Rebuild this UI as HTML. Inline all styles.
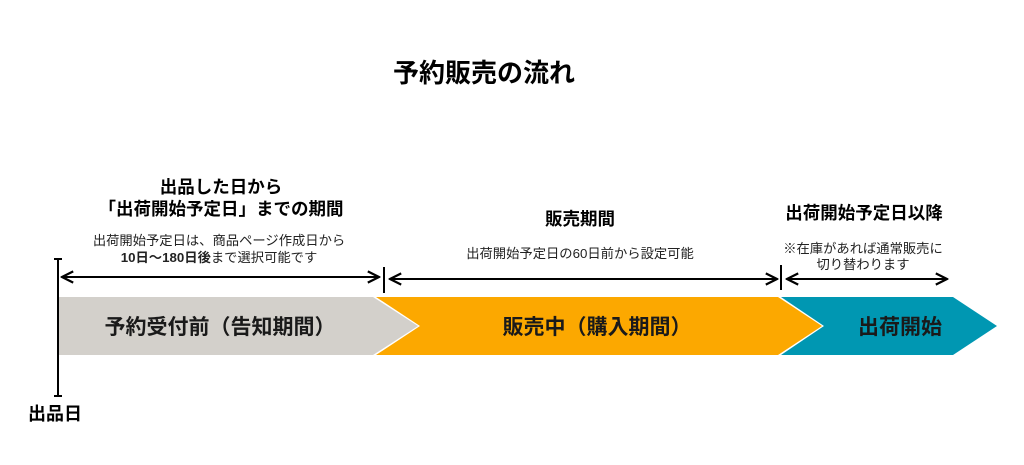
<!DOCTYPE html>
<html><head><meta charset="utf-8"><style>
body{margin:0;width:1024px;height:460px;background:#fff;overflow:hidden}
</style></head><body>
<svg width="1024" height="460" xmlns="http://www.w3.org/2000/svg" style="font-family:'Liberation Sans','Noto Sans CJK JP',sans-serif">
<defs><marker id="a" viewBox="0 0 10 10" refX="9" refY="5" markerWidth="7" markerHeight="7" orient="auto-start-reverse"><path d="M1,1 L9,5 L1,9" fill="none" stroke="#000" stroke-width="1.6"/></marker></defs>
<text x="484" y="82" font-size="26" font-weight="bold" text-anchor="middle">予約販売の流れ</text>
<g font-weight="bold" font-size="17.5" text-anchor="middle">
<text x="221" y="193">出品した日から</text>
<text x="221" y="215">「出荷開始予定日」までの期間</text>
<text x="580" y="225">販売期間</text>
<text x="864" y="219">出荷開始予定日以降</text>
</g>
<g font-size="13.3" text-anchor="middle" fill="#222">
<text x="219" y="245">出荷開始予定日は、商品ページ作成日から</text>
<text x="219" y="262"><tspan font-weight="bold">10日〜180日後</tspan>まで選択可能です</text>
<text x="580" y="258">出荷開始予定日の60日前から設定可能</text>
<text x="863" y="253">※在庫があれば通常販売に</text>
<text x="863" y="269">切り替わります</text>
</g>
<polygon points="58,297 373,297 418,326 373,355 58,355" fill="#d3d0cb"/>
<polygon points="376,297 778,297 822,326 778,355 376,355 420,326" fill="#fca800"/>
<polygon points="781,297 953,297 997,326 953,355 781,355 824,326" fill="#0097b2"/>
<g font-size="21" font-weight="bold" text-anchor="middle" fill="#1a1a1a">
<text x="220" y="334">予約受付前（告知期間）</text>
<text x="597" y="334">販売中（購入期間）</text>
<text x="900" y="334">出荷開始</text>
</g>
<g stroke="#000" stroke-width="2">
<line x1="58" y1="259" x2="58" y2="396"/><line x1="54" y1="259" x2="62" y2="259"/><line x1="54" y1="396" x2="62" y2="396"/>
<line x1="384" y1="267" x2="384" y2="293"/><line x1="781" y1="265" x2="781" y2="290"/>
<line x1="62" y1="277" x2="379" y2="277" marker-start="url(#a)" marker-end="url(#a)"/>
<line x1="390" y1="279" x2="777" y2="279" marker-start="url(#a)" marker-end="url(#a)"/>
<line x1="787" y1="279" x2="947" y2="279" marker-start="url(#a)" marker-end="url(#a)"/>
</g>
<text x="55" y="420" font-size="18" font-weight="bold" text-anchor="middle">出品日</text>
</svg>
</body></html>
